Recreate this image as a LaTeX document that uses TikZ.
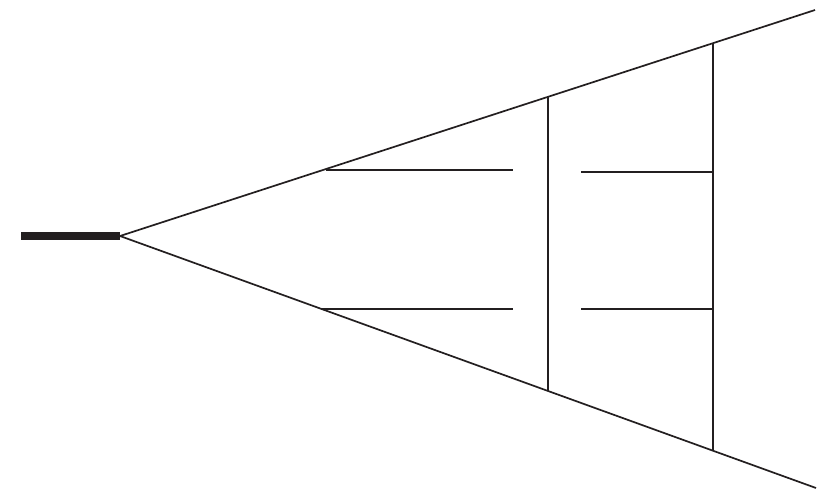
\documentclass[tikz,border=0pt]{standalone}
\definecolor{ink}{HTML}{231F20}
\begin{document}
\begin{tikzpicture}[x=1pt,y=-1pt,
  ln/.style={draw=ink,line width=1.7pt},
  bar/.style={draw=ink,line width=8pt}]
\useasboundingbox (0,0) rectangle (830,499);
\coordinate (s) at (21,236);
\coordinate (apex) at (120,236);
\coordinate (ut) at (815,10);
\coordinate (lt) at (816,488);
\coordinate (v1t) at (548,96.8);
\coordinate (v1b) at (548,391);
\coordinate (v2t) at (713,43.2);
\coordinate (v2b) at (713,450.5);
\coordinate (h1a) at (326,170);
\coordinate (h1b) at (513,170);
\coordinate (h2a) at (322,309);
\coordinate (h2b) at (513,309);
\coordinate (h3a) at (581,172);
\coordinate (h3b) at (713,172);
\coordinate (h4a) at (581,309);
\coordinate (h4b) at (713,309);
\draw[bar] (s) -- (apex);
\draw[ln] (apex) -- (ut);
\draw[ln] (apex) -- (lt);
\draw[ln] (v1t) -- (v1b);
\draw[ln] (v2t) -- (v2b);
\draw[ln] (h1a) -- (h1b);
\draw[ln] (h2a) -- (h2b);
\draw[ln] (h3a) -- (h3b);
\draw[ln] (h4a) -- (h4b);
\end{tikzpicture}
\end{document}
